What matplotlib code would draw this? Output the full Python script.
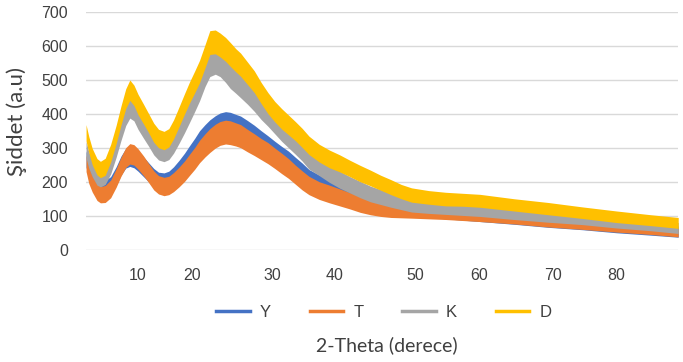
import matplotlib.pyplot as plt
from matplotlib.lines import Line2D
import numpy as np

plt.rcParams['font.family'] = ['Liberation Sans', 'DejaVu Sans']

# 2-Theta sample points
theta = [2.4, 2.8, 3.3, 4, 4.5, 5.2, 6, 6.8, 7.5, 8.2,
         8.8, 9.4, 10, 10.8, 11.5, 12.3, 13, 13.8, 14.5, 15.2,
         16, 16.8, 17.5, 18.3, 19, 19.8, 20.5, 21.3, 22, 22.8,
         23.5, 24.3,
         25, 26, 27, 28, 29, 30, 31, 32, 33, 34, 35,
         36.5, 38, 39.5, 41, 42.5, 44, 45.5, 47, 48.5, 50,
         52.5, 55, 57.5, 60,
         65, 70, 75, 80, 85, 89]

y_Y = [268, 235, 210, 185, 178, 180, 190, 218, 248, 270,
       276, 272, 262, 245, 230, 212, 202, 200, 205, 217,
       235, 255, 275, 297, 318, 335, 348, 360, 368, 372,
       370, 365,
       360, 348, 335, 320, 305, 290, 275, 262, 245, 228, 210,
       195, 182, 170, 160, 150, 140, 133, 127, 123, 120,
       116, 112, 107, 103,
       94, 85, 77, 68, 60, 54]
y_T = [255, 220, 195, 170, 163, 165, 180, 212, 245, 272,
       283, 280, 268, 248, 228, 205, 192, 187, 190, 200,
       215, 232, 250, 270, 290, 308, 322, 335, 343, 347,
       345, 340,
       335, 322, 310, 297, 285, 270, 255, 240, 222, 205, 190,
       175, 165, 155, 145, 135, 127, 121, 118, 116, 115,
       112, 110, 106, 103,
       95, 86, 78, 70, 62, 55]
y_K = [295, 265, 240, 215, 210, 218, 250, 300, 350, 395,
       418, 410, 385, 358, 335, 308, 292, 287, 293, 313,
       343, 375, 405, 440, 472, 515, 545, 552, 545, 528,
       510, 495,
       482, 462, 440, 415, 395, 372, 350, 330, 310, 290, 265,
       245, 225, 207, 192, 178, 165, 156, 148, 140, 133,
       128, 125, 121, 118,
       108, 100, 92, 82, 73, 65]
y_D = [345, 310, 275, 245, 237, 245, 285, 340, 395, 445,
       470, 455, 428, 400, 375, 345, 328, 322, 330, 355,
       392, 430, 462, 495, 525, 570, 610, 612, 603, 590,
       575, 558,
       545, 520, 495, 462, 432, 407, 386, 368, 350, 330, 308,
       285, 268, 255, 240, 225, 212, 198, 185, 172, 162,
       155, 150, 148, 145,
       133, 122, 110, 98, 88, 80]

# half width of the noise band around each curve
spread = [24, 24, 24, 24, 24, 25, 26, 27, 28, 29,
          30, 30, 30, 29, 28, 28, 27, 27, 27, 28,
          29, 30, 31, 32, 33, 34, 35, 35, 35, 35,
          35, 34,
          34, 33, 32, 31, 31, 30, 30, 29, 28, 28, 27,
          26, 26, 25, 24, 24, 23, 22, 22, 21, 21,
          20, 20, 19, 19,
          18, 18, 17, 17, 16, 16]

names = ['Y', 'T', 'K', 'D']
colors = ['#4472C4', '#ED7D31', '#A5A5A5', '#FFC000']

tick_pos = [9.9, 17.9, 29.7, 38.8, 50.6, 59.9, 70.7, 79.9]
tick_labels = ['10', '20', '30', '40', '50', '60', '70', '80']

fig = plt.figure(figsize=(6.83, 3.62), dpi=100)
ax = fig.add_axes([0.126, 0.309, 0.867, 0.658])

x = np.array(theta)
s = np.array(spread)
for vals, c in zip([y_Y, y_T, y_K, y_D], colors):
    v = np.array(vals)
    ax.fill_between(x, v - s, v + s, color=c, lw=0)

ax.set_xlim(2.4, 89)
ax.set_ylim(0, 700)
ax.set_yticks(range(0, 701, 100))
ax.set_xticks(tick_pos)
ax.set_xticklabels(tick_labels)
ax.grid(axis='y', color='#d9d9d9', lw=1)
ax.set_axisbelow(True)
for sp in ax.spines.values():
    sp.set_visible(False)
ax.tick_params(length=0, labelsize=11.5, colors='#404040')
ax.tick_params(axis='x', pad=13)
ax.tick_params(axis='y', pad=13)

fig.text(0.024, 0.665, 'Şiddet (a.u)', rotation=90, ha='center', va='center',
         fontsize=16, color='#404040', family=['Lato', 'DejaVu Sans'])
fig.text(0.567, 0.047, '2-Theta (derece)', ha='center', va='center',
         fontsize=14, color='#404040', family=['Lato', 'DejaVu Sans'])

handles = [Line2D([], [], color=c, lw=2.5) for c in colors]
fig.legend(handles, names, loc='center', bbox_to_anchor=(0.562, 0.138), ncol=4,
           frameon=False, fontsize=12, handlelength=2.0, handletextpad=0.6,
           columnspacing=2.35, labelcolor='#404040')

fig.savefig('out.png', dpi=100)
